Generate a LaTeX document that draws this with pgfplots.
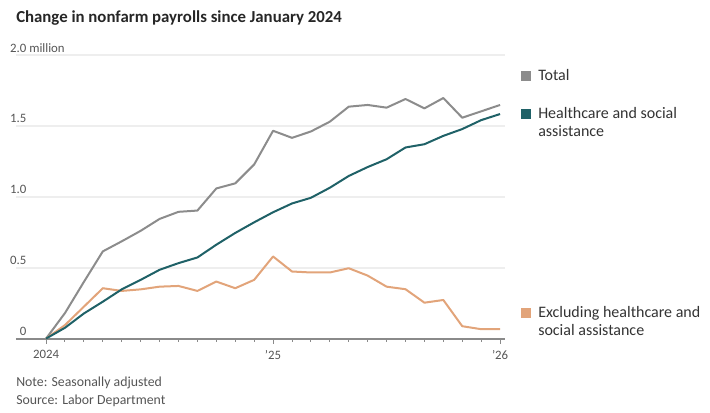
\documentclass[border=0pt]{standalone}
\usepackage{fontspec}
\setmainfont{Carlito}
\usepackage{pgfplots}
\pgfplotsset{compat=1.18}

\definecolor{totalc}{HTML}{8C8C8C}
\definecolor{hcc}{HTML}{1F6167}
\definecolor{exc}{HTML}{E2A47A}
\definecolor{gridc}{HTML}{EEEEEE}
\definecolor{axisc}{HTML}{8A8A8A}
\definecolor{txt}{HTML}{555555}
\definecolor{leg}{HTML}{333333}

% month index: 0 = Jan 2024 ... 24 = Jan 2026, values in millions
\pgfplotstableread{
m total hc ex
0  0     0     0
1  0.180 0.076 0.095
2  0.400 0.177 0.225
3  0.615 0.260 0.355
4  0.686 0.347 0.336
5  0.760 0.414 0.347
6  0.844 0.485 0.366
7  0.894 0.532 0.371
8  0.903 0.572 0.336
9  1.059 0.662 0.402
10 1.095 0.745 0.355
11 1.228 0.820 0.414
12 1.466 0.891 0.579
13 1.416 0.953 0.473
14 1.461 0.993 0.466
15 1.530 1.064 0.466
16 1.636 1.147 0.496
17 1.648 1.210 0.444
18 1.629 1.265 0.366
19 1.690 1.348 0.348
20 1.624 1.371 0.253
21 1.697 1.430 0.272
22 1.558 1.478 0.087
23 1.603 1.541 0.066
24 1.648 1.584 0.066
}\payrolls

\begin{document}
\begin{tikzpicture}
\path[use as bounding box] (-12pt,-55.1pt) rectangle (520.5pt,253.9pt);
\begin{axis}[
  at={(0,0)}, anchor=south west,
  scale only axis, width=366.75pt, height=212.6pt,
  xmin=-1.59, xmax=24.26, ymin=0, ymax=2,
  clip=false,
  axis x line*=bottom, axis y line*=left,
  separate axis lines,
  x axis line style={axisc, line width=1.5pt, -},
  y axis line style={draw=none},
  ytick={0,0.5,1,1.5,2},
  yticklabels={0,0.5,1.0,1.5,{2.0\rlap{ million}}},
  ymajorgrids, grid style={gridc, line width=1.5pt},
  ytick style={draw=none},
  yticklabel style={anchor=base east, inner sep=0pt, xshift=12pt, yshift=2.25pt,
    font=\fontsize{9.6}{11}\selectfont, text=txt},
  xtick={0,12,24}, xticklabels={2024,’25,’26},
  minor xtick={1,2,3,4,5,6,7,8,9,10,11,13,14,15,16,17,18,19,20,21,22,23},
  tick align=outside,
  major tick length=4pt, minor tick length=2.5pt,
  xtick style={axisc, line width=0.75pt},
  xticklabel style={font=\fontsize{9.6}{11}\selectfont, text=txt, inner sep=0pt, yshift=-4.5pt},
]
\addplot[totalc, line width=1.5pt, line join=round] table[x=m, y=total] {\payrolls};
\addplot[exc, line width=1.5pt, line join=round] table[x=m, y=ex] {\payrolls};
\addplot[hcc, line width=1.5pt, line join=round] table[x=m, y=hc] {\payrolls};
\end{axis}

% title and notes
\node[anchor=base west, inner sep=0pt, text=black!85, font=\fontsize{12.6}{14}\selectfont\bfseries]
  at (0pt,237.4pt) {Change in nonfarm payrolls since January 2024};
\node[anchor=base west, inner sep=0pt, text=txt, font=\fontsize{10.35}{12}\selectfont]
  at (0pt,-35.6pt) {Note: Seasonally adjusted};
\node[anchor=base west, inner sep=0pt, text=txt, font=\fontsize{10.35}{12}\selectfont]
  at (0pt,-49.1pt) {Source: Labor Department};

% legend
\fill[totalc] (382.5pt,197.25pt) +(-3.75pt,-3.75pt) rectangle +(3.75pt,3.75pt);
\node[anchor=base west, inner sep=0pt, text=leg, font=\fontsize{12}{13.3}\selectfont]
  at (391.5pt,193.9pt) {Total};
\fill[hcc] (382.5pt,168.6pt) +(-3.75pt,-3.75pt) rectangle +(3.75pt,3.75pt);
\node[anchor=base west, inner sep=0pt, text=leg, font=\fontsize{12}{13.3}\selectfont]
  at (391.5pt,165.1pt) {Healthcare and social};
\node[anchor=base west, inner sep=0pt, text=leg, font=\fontsize{12}{13.3}\selectfont]
  at (391.5pt,151.9pt) {assistance};
\fill[exc] (382.5pt,19.35pt) +(-3.75pt,-3.75pt) rectangle +(3.75pt,3.75pt);
\node[anchor=base west, inner sep=0pt, text=leg, font=\fontsize{12}{13.3}\selectfont]
  at (391.5pt,15.6pt) {Excluding healthcare and};
\node[anchor=base west, inner sep=0pt, text=leg, font=\fontsize{12}{13.3}\selectfont]
  at (391.5pt,2.4pt) {social assistance};
\end{tikzpicture}
\end{document}
